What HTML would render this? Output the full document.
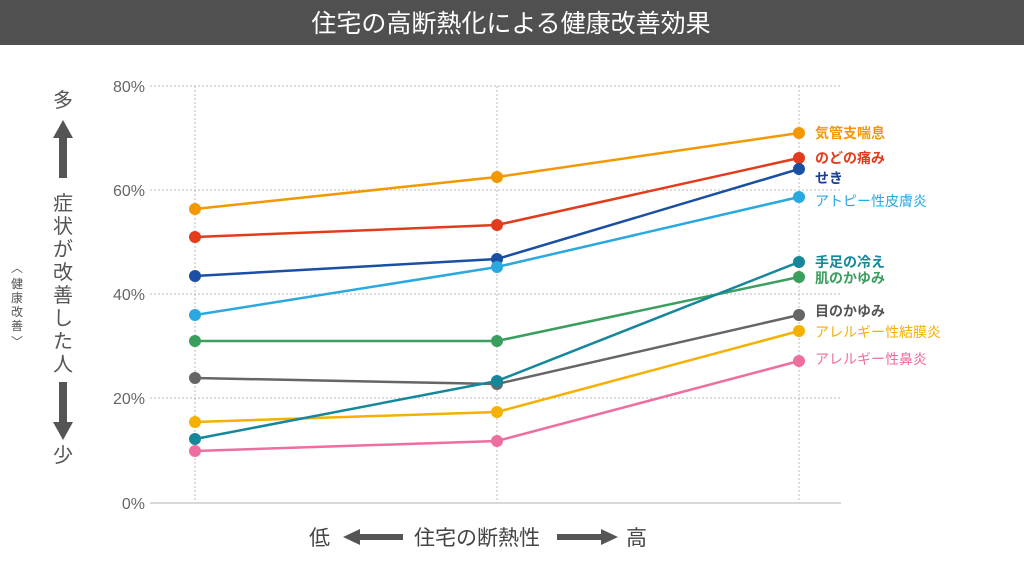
<!DOCTYPE html>
<html><head><meta charset="utf-8"><style>
body{margin:0;width:1024px;height:557px;background:#fff;overflow:hidden;font-family:"Liberation Sans","Noto Sans CJK JP",sans-serif;}
</style></head><body>
<svg width="1024" height="557" viewBox="0 0 1024 557" xmlns="http://www.w3.org/2000/svg" style="font-family:'Liberation Sans','Noto Sans CJK JP',sans-serif">
<rect x="0" y="0" width="1024" height="45" fill="#505050"/>
<text x="511" y="32" fill="#fff" font-size="25" text-anchor="middle">住宅の高断熱化による健康改善効果</text>
<g stroke="#bbb" stroke-width="1" stroke-dasharray="2,2">
<line x1="150" y1="86" x2="840" y2="86"/><line x1="150" y1="190" x2="840" y2="190"/>
<line x1="150" y1="294" x2="840" y2="294"/><line x1="150" y1="398" x2="840" y2="398"/>
<line x1="195" y1="86" x2="195" y2="503"/><line x1="497" y1="86" x2="497" y2="503"/><line x1="799" y1="86" x2="799" y2="503"/>
</g>
<line x1="150" y1="503" x2="841" y2="503" stroke="#ccc" stroke-width="1.5"/>
<g fill="#666" font-size="16" text-anchor="end">
<text x="145" y="92">80%</text><text x="145" y="196">60%</text><text x="145" y="300">40%</text><text x="145" y="404">20%</text><text x="145" y="509">0%</text>
</g>
<g fill="#555" font-size="20" text-anchor="middle">
<text x="63" y="107">多</text><text x="63" y="462">少</text>
<text x="63" y="210">症</text><text x="63" y="233">状</text><text x="63" y="256">が</text><text x="63" y="279">改</text><text x="63" y="302">善</text><text x="63" y="325">し</text><text x="63" y="348">た</text><text x="63" y="371">人</text>
</g>
<polygon points="63,120 53,138 59,138 59,178 67,178 67,138 73,138" fill="#555"/>
<polygon points="63,440 53,422 59,422 59,382 67,382 67,422 73,422" fill="#555"/>
<g fill="#555" font-size="12" text-anchor="middle">
<text x="17" y="272">︿</text><text x="17" y="288">健</text><text x="17" y="302">康</text><text x="17" y="316">改</text><text x="17" y="330">善</text><text x="17" y="346">﹀</text>
</g>
<g fill="#444" font-size="21">
<text x="309" y="545">低</text><text x="414" y="545">住宅の断熱性</text><text x="626" y="545">高</text>
</g>
<polygon points="343,537 360,529 360,534 403,534 403,540 360,540 360,545" fill="#555"/>
<polygon points="618,537 601,529 601,534 557,534 557,540 601,540 601,545" fill="#555"/>
<g stroke-width="2.5" fill="none">
<polyline points="195,209 497,177 799,133" stroke="#f39800"/>
<polyline points="195,237 497,225 799,158" stroke="#e23c1c"/>
<polyline points="195,276 497,259 799,169" stroke="#1a4fa3"/>
<polyline points="195,315 497,267 799,197" stroke="#2aa8e0"/>
<polyline points="195,341 497,341 799,277" stroke="#3a9e5f"/>
<polyline points="195,378 497,384 799,315" stroke="#666"/>
<polyline points="195,422 497,412 799,331" stroke="#f5b000"/>
<polyline points="195,439 497,381 799,262" stroke="#16879a"/>
<polyline points="195,451 497,441 799,361" stroke="#ee6ea0"/>
</g>
<g>
<g fill="#f39800"><circle cx="195" cy="209" r="6"/><circle cx="497" cy="177" r="6"/><circle cx="799" cy="133" r="6"/></g>
<g fill="#e23c1c"><circle cx="195" cy="237" r="6"/><circle cx="497" cy="225" r="6"/><circle cx="799" cy="158" r="6"/></g>
<g fill="#1a4fa3"><circle cx="195" cy="276" r="6"/><circle cx="497" cy="259" r="6"/><circle cx="799" cy="169" r="6"/></g>
<g fill="#2aa8e0"><circle cx="195" cy="315" r="6"/><circle cx="497" cy="267" r="6"/><circle cx="799" cy="197" r="6"/></g>
<g fill="#3a9e5f"><circle cx="195" cy="341" r="6"/><circle cx="497" cy="341" r="6"/><circle cx="799" cy="277" r="6"/></g>
<g fill="#666"><circle cx="195" cy="378" r="6"/><circle cx="497" cy="384" r="6"/><circle cx="799" cy="315" r="6"/></g>
<g fill="#f5b000"><circle cx="195" cy="422" r="6"/><circle cx="497" cy="412" r="6"/><circle cx="799" cy="331" r="6"/></g>
<g fill="#16879a"><circle cx="195" cy="439" r="6"/><circle cx="497" cy="381" r="6"/><circle cx="799" cy="262" r="6"/></g>
<g fill="#ee6ea0"><circle cx="195" cy="451" r="6"/><circle cx="497" cy="441" r="6"/><circle cx="799" cy="361" r="6"/></g>
</g>
<g font-size="14" font-weight="bold">
<text x="815" y="138" fill="#f39800">気管支喘息</text>
<text x="815" y="163" fill="#e23c1c">のどの痛み</text>
<text x="815" y="183" fill="#1a3f8f">せき</text>
<text x="815" y="206" fill="#2aa8e0" font-weight="normal">アトピー性皮膚炎</text>
<text x="815" y="267" fill="#16879a">手足の冷え</text>
<text x="815" y="283" fill="#3a9e5f">肌のかゆみ</text>
<text x="815" y="316" fill="#555">目のかゆみ</text>
<text x="815" y="337" fill="#f5b000" font-weight="normal">アレルギー性結膜炎</text>
<text x="815" y="364" fill="#ee6ea0" font-weight="normal">アレルギー性鼻炎</text>
</g>
</svg>
</body></html>
